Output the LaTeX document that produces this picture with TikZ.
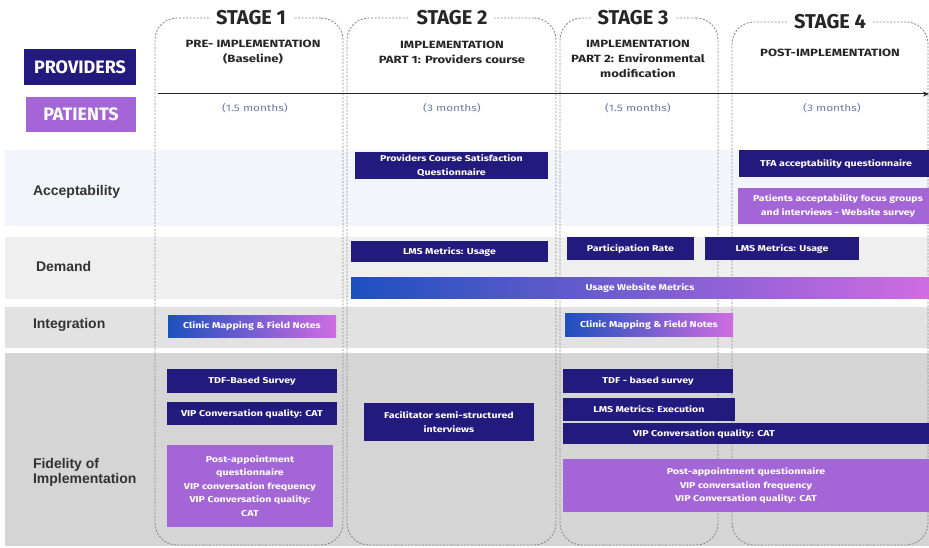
\documentclass[tikz,border=0pt]{standalone}
\usepackage{fontspec}
\setmainfont{Fira Sans}
\newfontfamily\widefont[FakeStretch=1.25]{Fira Sans}
\newfontfamily\lblfont{Liberation Sans}
\usetikzlibrary{arrows.meta}
\definecolor{navy}{HTML}{231A7E}
\definecolor{purp}{HTML}{A466D6}
\definecolor{gblue}{HTML}{1E50BE}
\definecolor{gpink}{HTML}{D06CE2}
\definecolor{bandA}{HTML}{F2F5FA}
\definecolor{bandB}{HTML}{EFEFEF}
\definecolor{bandC}{HTML}{E2E2E2}
\definecolor{bandD}{HTML}{D5D5D5}
\definecolor{dashc}{HTML}{8C8C8C}
\definecolor{durc}{HTML}{6A7BA8}
\newcommand\bx[7]{\node[#6, minimum width={(#4)-(#2)}, minimum height={(#5)-(#3)}] (#1) at ({((#2)+(#4))/2},{((#3)+(#5))/2}) {#7};}
\tikzset{
  every node/.style={inner sep=0pt, outer sep=0pt},
  bandbox/.style={fill=#1, draw=none},
  stageline/.style={draw=dashc, dash pattern=on 2pt off 1.5pt, line width=0.9pt, rounded corners=22pt},
  stagetitle/.style={fill=white, inner xsep=7pt, inner ysep=3pt, font=\fontsize{20}{21}\selectfont\bfseries, text=black!85},
  stagesub/.style={font=\widefont\fontsize{10.5}{15}\selectfont\bfseries, align=center, text=black!85},
  dur/.style={font=\widefont\fontsize{9.5}{10}\selectfont, text=durc},
  boxtext/.style={text=white, font=\widefont\fontsize{8.5}{13.5}\selectfont\bfseries, align=center},
  navybox/.style={fill=navy, boxtext},
  purpbox/.style={fill=purp, boxtext},
  gradbox/.style={left color=gblue, right color=gpink, boxtext},
  rowlabel/.style={font=\lblfont\fontsize{14}{15}\selectfont\bfseries, text=black!80, anchor=west, align=left},
  legendbox/.style={text=white, font=\fontsize{18}{19}\selectfont\bfseries},
}
\begin{document}
\begin{tikzpicture}[x=1pt,y=-1pt]
\useasboundingbox (0,0) rectangle (929,548);
% bands
\bx{bandacc}{5}{150}{929}{226}{bandbox=bandA}{}
\bx{banddem}{5}{237}{929}{299}{bandbox=bandB}{}
\bx{bandint}{5}{307}{929}{348}{bandbox=bandC}{}
\bx{bandfid}{5}{353}{929}{546}{bandbox=bandD}{}
% stage outlines
\bx{st1}{155}{18}{343}{545}{stageline}{}
\bx{st2}{347}{18}{556}{545}{stageline}{}
\bx{st3}{560}{18}{718}{545}{stageline}{}
\bx{st4}{732}{22}{928}{545}{stageline}{}
% titles
\node[stagetitle] (t1) at (251,18) {STAGE 1};
\node[stagetitle] (t2) at (452,18) {STAGE 2};
\node[stagetitle] (t3) at (633,18) {STAGE 3};
\node[stagetitle] (t4) at (830,22) {STAGE 4};
\node[stagesub, anchor=north] (s1) at (253,40) {PRE- IMPLEMENTATION\\(Baseline)};
\node[stagesub, anchor=north] (s2) at (452,41) {IMPLEMENTATION\\PART 1: Providers course};
\node[stagesub, anchor=north] (s3) at (638,40) {IMPLEMENTATION\\PART 2: Environmental\\modification};
\node[stagesub] (s4) at (830,53) {POST-IMPLEMENTATION};
% time axis
\coordinate (ax0) at (158,94);
\coordinate (ax1) at (929,94);
\draw[-{Stealth[length=6pt,width=5pt]}, line width=1pt, black!85] (ax0) -- (ax1);
\node[dur] (d1) at (255,108) {(1.5 months)};
\node[dur] (d2) at (452,108) {(3 months)};
\node[dur] (d3) at (638,108) {(1.5 months)};
\node[dur] (d4) at (832,108) {(3 months)};
% legend
\bx{prov}{24}{49}{136}{85}{fill=navy, legendbox}{PROVIDERS}
\bx{pat}{26}{97}{136}{132}{fill=purp, legendbox}{PATIENTS}
% row labels
\node[rowlabel] (racc) at (33,192) {Acceptability};
\node[rowlabel] (rdem) at (36,266) {Demand};
\node[rowlabel] (rint) at (33,325) {Integration};
\node[rowlabel] (rfid) at (33,472) {Fidelity of\\Implementation};
% acceptability
\bx{pcs}{355}{152}{548}{179}{navybox}{Providers Course Satisfaction\\Questionnaire}
\bx{tfa}{739}{150}{933}{177}{navybox}{TFA acceptability questionnaire}
\bx{pafg}{738}{188}{938}{224}{purpbox}{Patients acceptability focus groups\\and interviews - Website survey}
% demand
\bx{lms1}{351}{241}{548}{262}{navybox}{LMS Metrics: Usage}
\bx{part}{567}{237}{694}{260}{navybox}{Participation Rate}
\bx{lms2}{705}{237}{859}{260}{navybox}{LMS Metrics: Usage}
\bx{uwm}{351}{277}{929}{298}{gradbox}{Usage Website Metrics}
% integration
\bx{cm1}{168}{315}{336}{337}{gradbox}{Clinic Mapping \& Field Notes}
\bx{cm3}{565}{313}{733}{336}{gradbox}{Clinic Mapping \& Field Notes}
% fidelity
\bx{tdf1}{167}{369}{337}{393}{navybox}{TDF-Based Survey}
\bx{vip1}{167}{402}{337}{425}{navybox}{VIP Conversation quality: CAT}
\bx{post1}{167}{445}{333}{527}{purpbox}{Post-appointment\\questionnaire\\VIP conversation frequency\\VIP Conversation quality:\\CAT}
\bx{facil}{364}{403}{534}{441}{navybox}{Facilitator semi-structured\\interviews}
\bx{tdf3}{563}{369}{733}{393}{navybox}{TDF - based survey}
\bx{lmsx}{563}{398}{735}{421}{navybox}{LMS Metrics: Execution}
\bx{vip3}{563}{423}{929}{444}{navybox}{}
\node[boxtext] (vip3t) at (704,433.5) {VIP Conversation quality: CAT};
\bx{post3}{563}{459}{929}{512}{purpbox}{Post-appointment questionnaire\\VIP conversation frequency\\VIP Conversation quality: CAT}
\end{tikzpicture}
\end{document}
